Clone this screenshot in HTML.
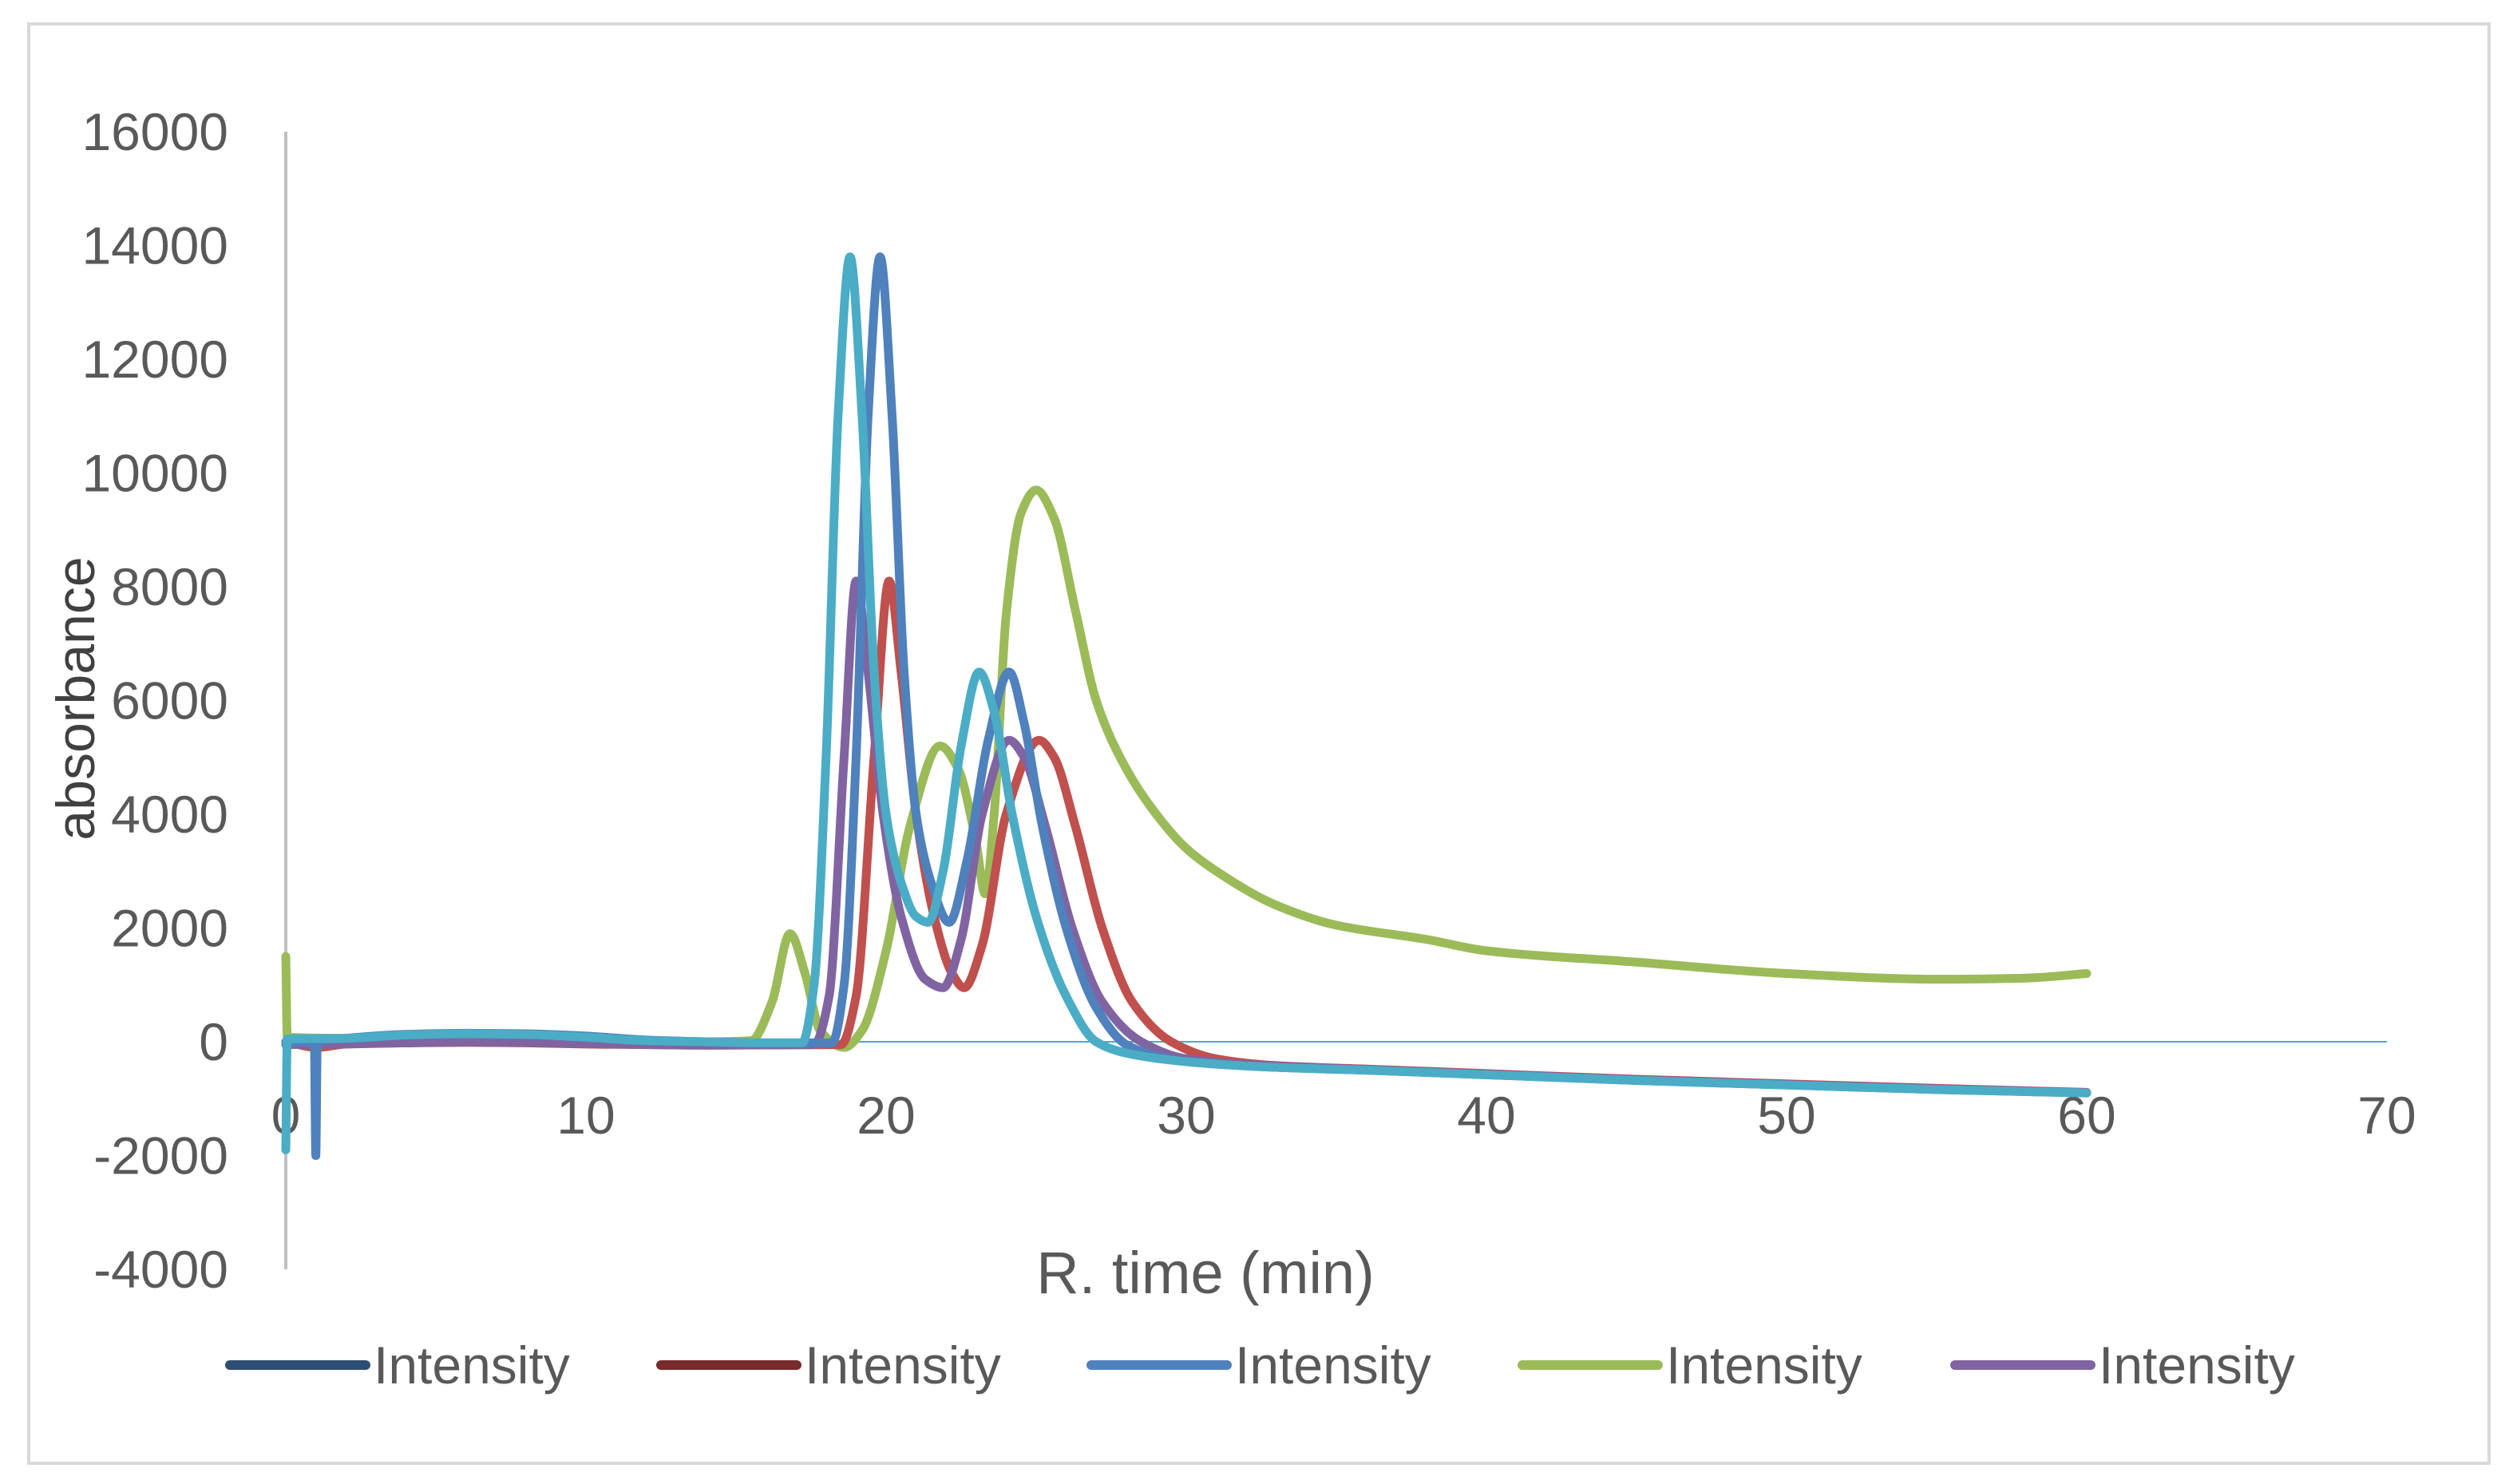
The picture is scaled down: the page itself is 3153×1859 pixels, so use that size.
<!DOCTYPE html>
<html><head><meta charset="utf-8"><style>
html,body{margin:0;padding:0;background:#fff;}
svg{display:block;font-family:"Liberation Sans",sans-serif;}
</style></head><body>
<svg id="chart" width="3153" height="1859" viewBox="0 0 3153 1859">
<rect x="36" y="30" width="3082" height="1803" fill="#fff" stroke="#d9d9d9" stroke-width="4"/>
<g id="yticks"></g>
<g id="xticks"></g>
<g id="plot"></g>
<text x="100" y="875" transform="rotate(-90 100 875)" text-anchor="middle" dominant-baseline="middle" font-size="68" fill="#404040">absorbance</text>
<text x="1510" y="1620" text-anchor="middle" font-size="74" fill="#595959">R. time  (min)</text>
<g id="legend"></g>
</svg>
<script>
const yTicks=[16000,14000,12000,10000,8000,6000,4000,2000,0,-2000,-4000];
const xTicks=[0,10,20,30,40,50,60,70];
const legendLabels=["Intensity","Intensity","Intensity","Intensity","Intensity"];
const legendColors=["#2E4D73","#772B2B","#4F81BD","#9BBB59","#8064A2"];
const seriesBlue=[[0,0],[0.95,0],[1.0,-2000],[1.05,0],[2,60],[4,130],[6,150],[8,140],[10,100],[12,30],[14,0],[16,-20],[18.2,-20],[18.6,1000],[19.0,5000],[19.4,11000],[19.8,13800],[20.2,11000],[20.6,6500],[21.0,4000],[21.5,2800],[22.1,2100],[22.7,3200],[23.4,5300],[24.1,6500],[24.6,5600],[25.2,3800],[26,2000],[27,600],[28,-50],[29,-250],[30,-350],[33,-450],[36,-500],[40,-580],[45,-680],[50,-760],[55,-840],[60,-900]];
const seriesRed=[[0,0],[1.05,-100],[2,-40],[4,-20],[6,-10],[8,-20],[10,-40],[14,-60],[18.5,-50],[19.0,800],[19.6,5000],[20.1,8100],[20.5,6500],[21.0,4000],[21.6,2200],[22.2,1200],[22.6,950],[23.2,1700],[24.0,4000],[25.1,5300],[25.6,5000],[26.3,3800],[27.2,2000],[28.2,700],[29.5,0],[31,-300],[33,-420],[36,-480],[40,-560],[45,-660],[50,-740],[55,-820],[60,-890]];
const seriesGreen=[[0,1500],[0.05,80],[2,60],[5,40],[10,20],[14,0],[15.5,20],[16.2,700],[16.8,1900],[17.3,1200],[17.8,200],[18.6,-100],[19.2,200],[20,1600],[20.8,3800],[21.8,5200],[22.4,4800],[23.0,3500],[23.3,2600],[23.6,4000],[24.0,7500],[24.5,9300],[25.0,9700],[25.6,9200],[26.3,7600],[27,6000],[28,4800],[29,4000],[30,3400],[31,3000],[33,2400],[35,2050],[38,1800],[40,1600],[45,1400],[50,1200],[55,1100],[58,1120],[60,1200]];
const seriesPurple=[[0,-50],[2,-40],[4,-20],[6,0],[8,-10],[10,-30],[14,-60],[17.6,-50],[18.1,800],[18.6,5000],[19.0,8100],[19.4,6500],[19.9,4000],[20.5,2200],[21.3,1100],[21.9,950],[22.5,1800],[23.2,4000],[24.1,5300],[24.6,5000],[25.3,3800],[26.2,2000],[27.2,700],[28.5,0],[30,-300],[33,-430],[36,-490],[40,-570],[45,-670],[50,-750],[55,-830],[60,-895]];
const seriesCyan=[[0,-1900],[0.05,50],[2,60],[4,120],[6,140],[8,130],[10,80],[12,20],[14,0],[16,-20],[17.2,-20],[17.6,1000],[18.0,5000],[18.4,11000],[18.8,13800],[19.2,11000],[19.6,6500],[20.0,4000],[20.5,2800],[21.0,2200],[21.4,2100],[21.9,3000],[22.5,5200],[23.1,6500],[23.6,5800],[24.2,4000],[25,2200],[26,800],[27,0],[28,-200],[30,-350],[33,-450],[36,-500],[40,-580],[45,-680],[50,-760],[55,-840],[60,-900]];

const NS="http://www.w3.org/2000/svg";
const X0=358,X1=2990,Y0=165,Y1=1590;
function sx(v){return X0+(v-0)/(70-0)*(X1-X0);}
function sy(v){return Y0+(16000-v)/(16000+4000)*(Y1-Y0);}
function mk(t,a,p){const e=document.createElementNS(NS,t);for(const k in a)e.setAttribute(k,a[k]);p.appendChild(e);return e;}
const yt=document.getElementById('yticks'),xt=document.getElementById('xticks'),plot=document.getElementById('plot'),lg=document.getElementById('legend');
yTicks.forEach(v=>{const t=mk('text',{x:286,y:sy(v)+23,'text-anchor':'end','font-size':66,fill:'#595959'},yt);t.textContent=String(v);

});
xTicks.forEach(v=>{const t=mk('text',{x:sx(v),y:1420,'text-anchor':'middle','font-size':66,fill:'#595959'},xt);t.textContent=String(v);

});
const ax=mk('line',{x1:X0,y1:Y0,x2:X0,y2:Y1,stroke:'#bfbfbf','stroke-width':4},plot);


const zl=mk('line',{x1:X0,y1:sy(0),x2:X1,y2:sy(0),stroke:'#4BACC6','stroke-width':2},plot);


// monotone cubic interpolation (no overshoot)
function pathFor(pts){const P=pts.map(p=>[sx(p[0]),sy(p[1])]);const n=P.length;
const d=[],m=new Array(n);
for(let i=0;i<n-1;i++)d.push((P[i+1][1]-P[i][1])/(P[i+1][0]-P[i][0]));
m[0]=d[0];m[n-1]=d[n-2];
for(let i=1;i<n-1;i++){if(d[i-1]*d[i]<=0)m[i]=0;else{const h0=P[i][0]-P[i-1][0],h1=P[i+1][0]-P[i][0];const w1=2*h1+h0,w2=h1+2*h0;m[i]=(w1+w2)/(w1/d[i-1]+w2/d[i]);}}
let s='M'+P[0][0]+','+P[0][1];
for(let i=0;i<n-1;i++){const h=(P[i+1][0]-P[i][0])/3;
s+=' C'+(P[i][0]+h)+','+(P[i][1]+m[i]*h)+' '+(P[i+1][0]-h)+','+(P[i+1][1]-m[i+1]*h)+' '+P[i+1][0]+','+P[i+1][1];}
return s;}
const series=[[seriesGreen,'#9BBB59','series-green'],[seriesRed,'#C0504D','series-red'],[seriesPurple,'#8064A2','series-purple'],[seriesBlue,'#4F81BD','series-blue'],[seriesCyan,'#4BACC6','series-cyan']];
series.forEach(s=>{const p=mk('path',{d:pathFor(s[0]),fill:'none',stroke:s[1],'stroke-width':11,'stroke-linejoin':'round','stroke-linecap':'round'},plot);

});
const lx=[288,828,1367,1907,2449];
legendLabels.forEach((lab,i)=>{const g=mk('g',{},lg);


mk('line',{x1:lx[i],y1:1710,x2:lx[i]+170,y2:1710,stroke:legendColors[i],'stroke-width':12,'stroke-linecap':'round'},g);
const t=mk('text',{x:lx[i]+180,y:1733,'font-size':66,fill:'#595959'},g);t.textContent=lab;});
</script>
</body></html>
